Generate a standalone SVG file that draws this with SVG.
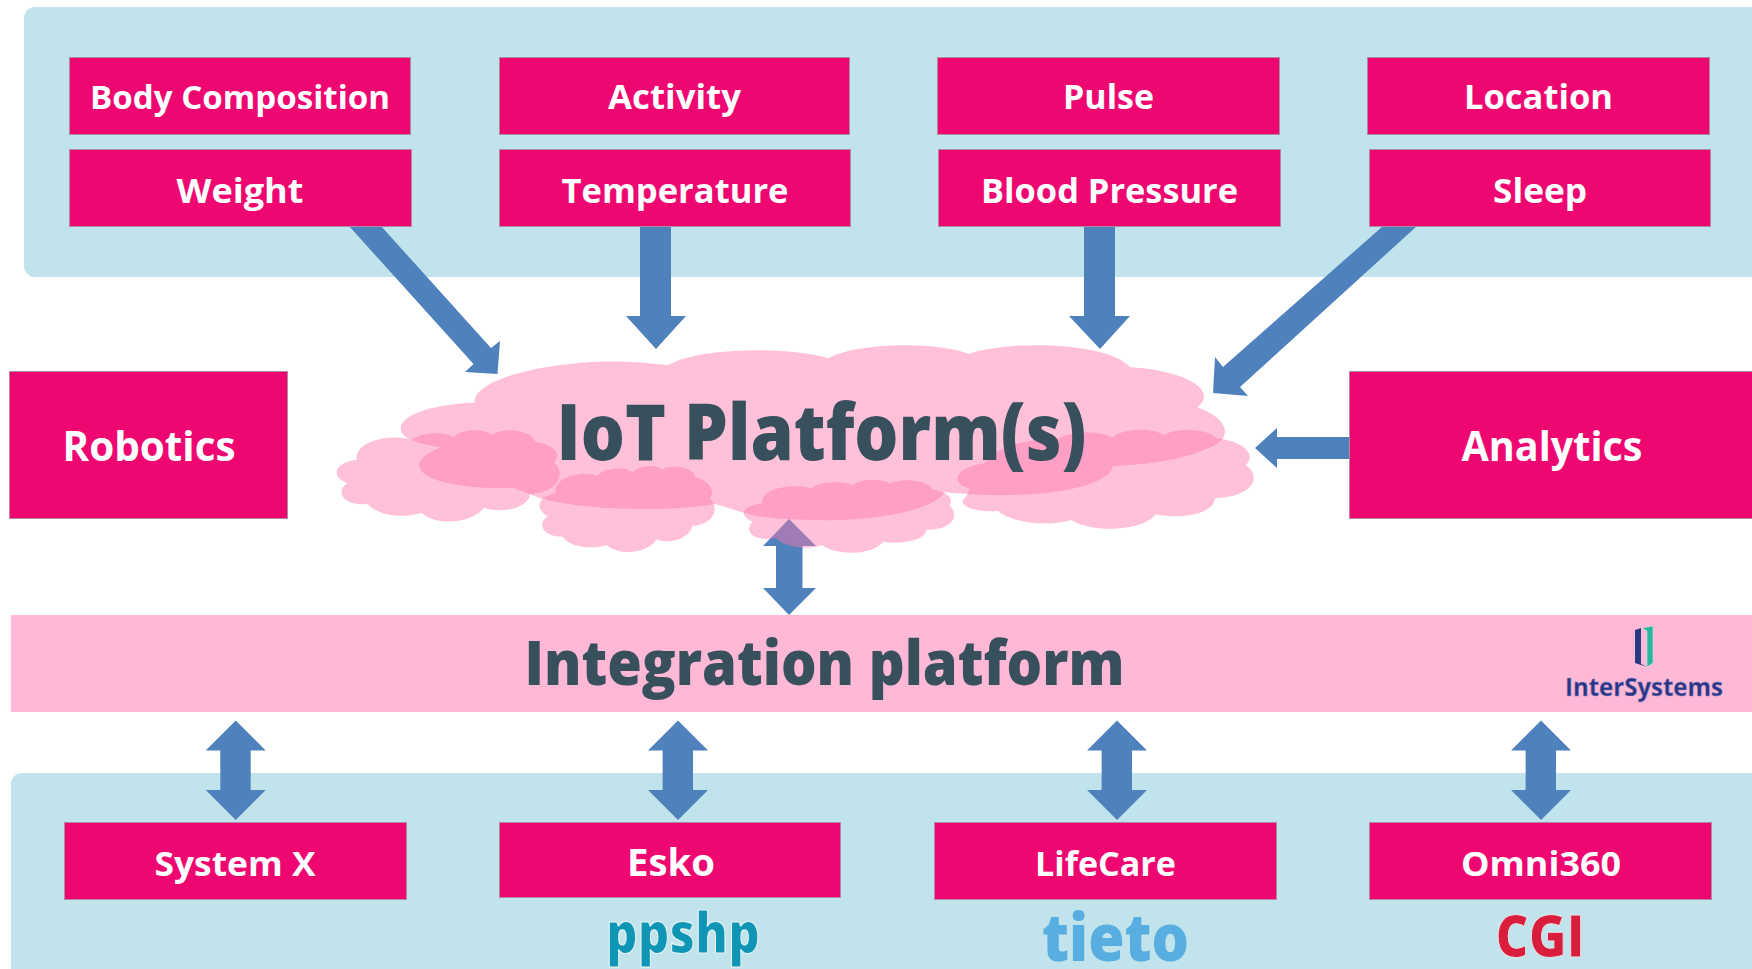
<svg xmlns="http://www.w3.org/2000/svg" width="1752" height="969" viewBox="0 0 1752 969">
<style>
text{font-family:"Open Sans","Noto Sans","Liberation Sans",sans-serif;text-anchor:middle}
.panel{fill:#c1e3ec}
.box{fill:#ef0771;stroke:#b08aa5;stroke-width:1}
.t{fill:#fff;font-weight:700;font-size:34.5px}
.tb{fill:#fff;font-weight:700;font-size:41px}
.arr{fill:#4f81bd}
.cl{fill:#ff75ad;fill-opacity:.45}
.h{fill:#38505c;font-weight:800}
</style>
<rect width="1752" height="969" fill="#fff"/>
<rect class="panel" x="24" y="7" width="1748" height="270" rx="11"/>
<rect class="panel" x="11" y="773" width="1761" height="216" rx="11"/>
<g id="connectors">
<polygon class="arr" points="349,226 381,226 491,348 500,341 497.5,374 465,372 473.5,364"/>
<polygon class="arr" points="640,226 671,226 671,316 686,316 656,349 626,316 640,316"/>
<polygon class="arr" points="1084,226 1115,226 1115,316 1130,316 1100,349 1069,316 1084,316"/>
<polygon class="arr" points="1383,226 1417,226 1240,387 1248,396 1213,393 1215,357 1223,367"/>
<polygon class="arr" points="1350,437 1277,437 1277,428 1255,448 1277,468 1277,459 1350,459"/>
<polygon class="arr" points="789,519 816,546 802.500,546 802.500,588 816,588 789,615 763,588 776,588 776,546 763,546"/>
<polygon class="arr" points="235.700,720.500 265.700,750.500 250.700,750.500 250.700,790 265.700,790 235.700,820 205.700,790 220.300,790 220.300,750.500 205.700,750.500"/>
<polygon class="arr" points="678,720.500 708,750.500 693,750.500 693,790 708,790 678,820 648,790 662.600,790 662.600,750.500 648,750.500"/>
<polygon class="arr" points="1117,720.500 1147,750.500 1132,750.500 1132,790 1147,790 1117,820 1087,790 1101.600,790 1101.600,750.500 1087,750.500"/>
<polygon class="arr" points="1541,720.500 1571,750.500 1556,750.500 1556,790 1571,790 1541,820 1511,790 1525.600,790 1525.600,750.500 1511,750.500"/>
</g>
<g id="cloud" transform="translate(320 330) scale(.6122 .3333)">
<path class="cl" d="M253,218C245,140 420,65 568,106C620,50 770,50 830,85C880,35 1010,35 1060,72C1120,30 1290,35 1323,112C1410,120 1470,180 1433,232C1490,270 1490,330 1450,355C1410,390 1350,405 1295,408C1290,470 1180,515 1020,487C1000,550 880,575 815,570C770,570 720,565 692,548L645,522C600,540 450,550 360,505L315,473C230,480 160,450 162,403C165,380 180,365 198,352C150,340 130,320 132,292C135,250 190,222 253,218Z"/>
<path class="cl" d="M60,390C55,330 120,310 150,330C165,305 205,305 218,322C230,295 270,295 280,315C300,290 345,300 352,335C385,345 395,375 382,395C405,435 385,490 343,492C340,540 290,550 268,533C250,580 190,590 166,548C140,565 95,560 78,522C35,530 25,480 45,460C15,440 25,395 60,390Z"/>
<path class="cl" d="M385,490C380,440 430,420 452,438C465,410 505,410 510,428C525,400 555,405 558,420C580,395 615,420 613,442C640,455 645,490 637,505C655,540 640,585 608,588C605,625 570,645 550,628C535,670 490,680 468,645C445,660 405,650 397,620C360,620 355,575 372,560C350,535 355,500 385,490Z"/>
<path class="cl" d="M722,520C720,470 780,460 803,476C815,450 860,455 870,465C890,440 925,450 930,460C960,440 995,455 1000,478C1030,490 1035,510 1028,525C1045,555 1035,600 990,600C990,630 950,645 920,635C900,680 840,675 820,645C800,660 760,655 745,625C710,635 690,605 707,575C685,560 685,530 722,520Z"/>
<path class="cl" d="M1085,400C1100,350 1170,320 1208,325C1225,305 1270,300 1295,322C1310,295 1360,292 1378,315C1400,292 1450,295 1465,325C1510,335 1530,375 1512,405C1540,440 1525,500 1462,505C1460,550 1410,570 1365,553C1345,605 1260,610 1227,570C1190,590 1130,580 1108,543C1065,550 1040,520 1053,505C1060,490 1060,480 1060,475C1030,460 1035,415 1085,400Z"/>
</g>
<text class="h" x="821.500" y="459.500" font-size="78" textLength="530" lengthAdjust="spacingAndGlyphs">IoT Platform(s)</text>
<g id="n-body"><rect class="box" x="69.5" y="57.5" width="341" height="77"/><text class="t" style="font-size:33px" x="240" y="109" textLength="300" lengthAdjust="spacingAndGlyphs">Body Composition</text></g>
<g id="n-weight"><rect class="box" x="69.5" y="149.5" width="342" height="77"/><text class="t" x="240" y="202.500" textLength="127" lengthAdjust="spacingAndGlyphs">Weight</text></g>
<g id="n-activity"><rect class="box" x="499.5" y="57.5" width="350" height="77"/><text class="t" x="674.500" y="109" textLength="133" lengthAdjust="spacingAndGlyphs">Activity</text></g>
<g id="n-temperature"><rect class="box" x="499.5" y="149.5" width="351" height="77"/><text class="t" x="675" y="202.500" textLength="227" lengthAdjust="spacingAndGlyphs">Temperature</text></g>
<g id="n-pulse"><rect class="box" x="937.5" y="57.5" width="342" height="77"/><text class="t" x="1108.500" y="109" textLength="91" lengthAdjust="spacingAndGlyphs">Pulse</text></g>
<g id="n-bp"><rect class="box" x="938.5" y="149.5" width="342" height="77"/><text class="t" x="1109.500" y="202.500" textLength="257" lengthAdjust="spacingAndGlyphs">Blood Pressure</text></g>
<g id="n-location"><rect class="box" x="1367.5" y="57.5" width="342" height="77"/><text class="t" x="1538.500" y="109" textLength="149" lengthAdjust="spacingAndGlyphs">Location</text></g>
<g id="n-sleep"><rect class="box" x="1369.5" y="149.5" width="341" height="77"/><text class="t" x="1540" y="202.500" textLength="94" lengthAdjust="spacingAndGlyphs">Sleep</text></g>
<g id="n-robotics"><rect class="box" x="9.5" y="371.500" width="278" height="147"/><text class="tb" x="149" y="461" textLength="173" lengthAdjust="spacingAndGlyphs">Robotics</text></g>
<g id="n-analytics"><rect class="box" x="1349.5" y="371.500" width="410" height="147"/><text class="tb" x="1552" y="461" textLength="181" lengthAdjust="spacingAndGlyphs">Analytics</text></g>
<g id="n-integration"><rect x="11" y="615" width="1741" height="97" fill="#ffb9d7"/>
<text class="h" x="824.500" y="685" font-size="62" textLength="600" lengthAdjust="spacingAndGlyphs">Integration platform</text>
<polygon points="1635,630 1641,628 1641,664 1647,667 1635,663" fill="#273a80"/>
<polygon points="1642,628 1653,626 1653,663 1647,667 1647,631" fill="#27b5a0" stroke="#cfe8e8" stroke-width=".6"/>
<text x="1644" y="696" font-size="25" font-weight="700" fill="#2a3585" stroke="#8f88c0" stroke-width=".5" textLength="158" lengthAdjust="spacingAndGlyphs">InterSystems</text></g>
<g id="n-systemx"><rect class="box" x="64.5" y="822.5" width="342" height="77"/><text class="t" x="235" y="875.500" textLength="161" lengthAdjust="spacingAndGlyphs">System X</text></g>
<g id="n-esko"><rect class="box" x="499.5" y="822.5" width="341" height="75"/><text class="t" style="font-size:38px" x="671" y="876" textLength="88" lengthAdjust="spacingAndGlyphs">Esko</text></g>
<g id="n-lifecare"><rect class="box" x="934.5" y="822.5" width="342" height="77"/><text class="t" x="1105.500" y="875.500" textLength="141" lengthAdjust="spacingAndGlyphs">LifeCare</text></g>
<g id="n-omni"><rect class="box" x="1369.5" y="822.5" width="342" height="77"/><text class="t" x="1541" y="875.500" textLength="160" lengthAdjust="spacingAndGlyphs">Omni360</text></g>
<text x="683" y="953" font-size="56" font-weight="800" fill="#0f96b7" stroke="#e3f2f3" stroke-width="1.2" textLength="154" lengthAdjust="spacingAndGlyphs">ppshp</text>
<text x="1115.500" y="961" font-size="65" font-weight="800" fill="#58aee0" textLength="147" lengthAdjust="spacingAndGlyphs">tieto</text>
<text x="1540" y="957" font-size="58" font-weight="800" fill="#d81e3c" stroke="#eadfe3" stroke-width="1" textLength="89" lengthAdjust="spacingAndGlyphs">CGI</text>
</svg>
